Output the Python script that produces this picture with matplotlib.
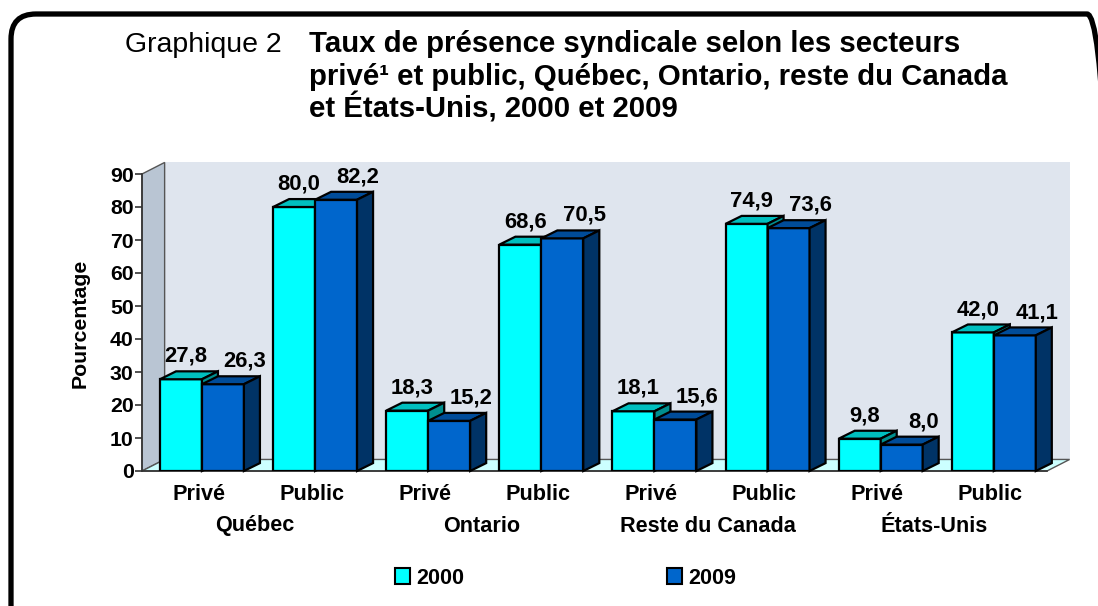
import numpy as np
import matplotlib
matplotlib.use('Agg')
import matplotlib.pyplot as plt
from matplotlib.patches import Polygon, Patch, FancyBboxPatch
from matplotlib.transforms import blended_transform_factory

plt.rcParams['font.family'] = ['Liberation Sans', 'DejaVu Sans']

#Data
regions = ['Québec', 'Ontario', 'Reste du Canada', 'États-Unis']
sectors = ['Privé', 'Public']
years = ['2000', '2009']
v2000 = [27.8, 80.0, 18.3, 68.6, 18.1, 74.9, 9.8, 42.0]
v2009 = [26.3, 82.2, 15.2, 70.5, 15.6, 73.6, 8.0, 41.1]

#Colours: front, top, side
col2000 = ('#00ffff', '#00bfbf', '#008f8f')
col2009 = ('#0066cc', '#004c99', '#003366')

W, H = 1098, 606
fig = plt.figure(figsize=(W/100, H/100), dpi=100)

#Axes placed in pixels
x0, x1, y0, y1 = 142, 1047, 471, 174
ax = fig.add_axes([x0/W, 1 - y0/H, (x1-x0)/W, (y0-y1)/H])
ax.set_xlim(0, 8)
ax.set_ylim(0, 90)
ax.patch.set_visible(False)

#3D wall/floor depth, in data units
wdx, wdy = 0.2, 3.5
ax.add_patch(Polygon([(wdx, wdy), (8+wdx, wdy), (8+wdx, 90+wdy), (wdx, 90+wdy)],
                     closed=True, fc='#dfe5ee', ec='none', zorder=0, clip_on=False))
ax.add_patch(Polygon([(0, 0), (0, 90), (wdx, 90+wdy), (wdx, wdy)],
                     closed=True, fc='#b9c5d3', ec='#555555', lw=1, zorder=1, clip_on=False))
ax.add_patch(Polygon([(0, 0), (8, 0), (8+wdx, wdy), (wdx, wdy)],
                     closed=True, fc='#ccffff', ec='#555555', lw=1, zorder=1, clip_on=False))

#Bars
bw = 0.371
bdx, bdy = 0.1415, 2.4
n = len(v2000)
for i in range(n):
    left = i + 0.159
    for k, (vals, cols) in enumerate([(v2000, col2000), (v2009, col2009)]):
        xl = left + k*bw
        v = vals[i]
        z = 3 + 2*i + k
        ax.bar(xl, v, width=bw, align='edge', color=cols[0], edgecolor='black',
               linewidth=1.6, zorder=z)
        ax.add_patch(Polygon([(xl, v), (xl+bw, v), (xl+bw+bdx, v+bdy), (xl+bdx, v+bdy)],
                             closed=True, fc=cols[1], ec='black', lw=1.6, zorder=z, clip_on=False))
        ax.add_patch(Polygon([(xl+bw, 0), (xl+bw+bdx, bdy), (xl+bw+bdx, v+bdy), (xl+bw, v)],
                             closed=True, fc=cols[2], ec='black', lw=1.6, zorder=z, clip_on=False))
        shift = 3.6 if k == 0 else 15.8
        ax.annotate(f'{v:.1f}'.replace('.', ','), (xl + bw/2, v), xytext=(shift, 12.5),
                    textcoords='offset points', ha='center', va='baseline',
                    fontsize=15.8, fontweight='bold', zorder=20, annotation_clip=False)

#Axis styling
for s in ['top', 'right']:
    ax.spines[s].set_visible(False)
for s in ['left', 'bottom']:
    ax.spines[s].set_color('#333333')
    ax.spines[s].set_linewidth(1.2)
    ax.spines[s].set_zorder(2)
ax.set_yticks(range(0, 91, 10))
ax.tick_params(axis='y', length=5, width=1.2, color='#333333', pad=1, labelsize=15.3)
for t in ax.get_yticklabels():
    t.set_fontweight('bold')
ax.set_xticks(np.arange(n) + 0.5)
ax.set_xticklabels(sectors * len(regions), fontsize=15.6, fontweight='bold')
ax.tick_params(axis='x', length=0, pad=9.5)

trans = blended_transform_factory(ax.transData, ax.transAxes)
for j, r in enumerate(regions):
    ax.text(2*j + 1, -(526 - y0)/(y0 - y1), r, transform=trans, ha='center', va='center',
            fontsize=15.6, fontweight='bold')

fig.text(80/W, 1 - 323/H, 'Pourcentage', rotation=90, ha='center', va='center',
         fontsize=15.3, fontweight='bold')

#Title
fig.text(125/W, 1 - 52/H, 'Graphique 2', ha='left', va='baseline', fontsize=20.5)
title_lines = ['Taux de présence syndicale selon les secteurs',
               'privé¹ et public, Québec, Ontario, reste du Canada',
               'et États-Unis, 2000 et 2009']
for j, line in enumerate(title_lines):
    fig.text(309/W, 1 - (52 + 33*j)/H, line, ha='left', va='baseline',
             fontsize=21.2, fontweight='bold')

#Legend
handles = [Patch(fc=col2000[0], ec='black', lw=1.5), Patch(fc=col2009[0], ec='black', lw=1.5)]
leg = fig.legend(handles, years, loc='center', bbox_to_anchor=(565.5/W, 1 - 578/H),
                 ncol=2, frameon=False, handlelength=0.7, handleheight=0.7,
                 handletextpad=0.3, columnspacing=9.4,
                 prop={'size': 15.5, 'weight': 'bold'})

#Rounded frame, bottom and right run off the picture
frame = FancyBboxPatch((11, -60), 1112 - 11, (H - 14) + 60,
                       boxstyle='round,pad=0,rounding_size=25',
                       transform=None, fill=False, ec='black', lw=3.8, clip_on=False)
fig.patches.append(frame)

fig.savefig('out.png', dpi=100)
